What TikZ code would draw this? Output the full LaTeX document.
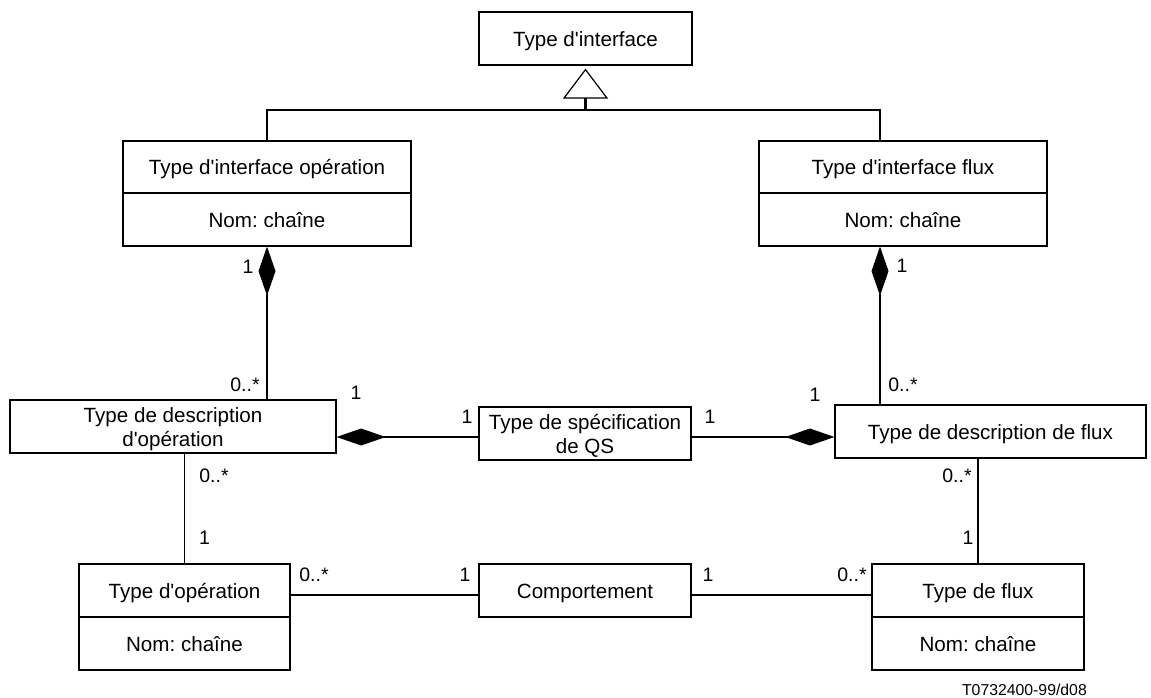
\documentclass[tikz,border=0pt]{standalone}
\usepackage{fontspec}
\setmainfont{Liberation Sans}[Ligatures=TeXOff]
\usetikzlibrary{arrows.meta,calc}
% box text: one or more centred lines, lowered a little inside the box
\newcommand\boxtext[1]{\raisebox{-3pt}[\height][\depth]{\begin{tabular}{@{}c@{}}#1\end{tabular}}}
\begin{document}
\frenchspacing
\begin{tikzpicture}[x=1pt,y=-1pt,
  cls/.style={draw, line width=1.2pt, inner sep=0pt,
    font=\fontsize{20.6}{24}\selectfont},
  mult/.style={inner sep=0pt, font=\fontsize{19.5}{22}\selectfont},
  lnthin/.style={line width=1.2pt},
  lnthick/.style={line width=2.2pt},
  compo/.style={{Diamond[length=49pt,width=17pt,line width=1pt]}-}
]
\useasboundingbox (0,0) rectangle (1151,697);

% classes
\node[cls, minimum width=213pt, minimum height=53pt] (ti) at (585.5,38.5) {\boxtext{Type d'interface}};

\node[cls, minimum width=288pt, minimum height=52pt] (tio)  at (267,167)   {\boxtext{Type d'interface opération}};
\node[cls, minimum width=288pt, minimum height=53pt] (tiob) at (267,219.5) {\boxtext{Nom: chaîne}};

\node[cls, minimum width=288pt, minimum height=52pt] (tif)  at (903,167)   {\boxtext{Type d'interface flux}};
\node[cls, minimum width=288pt, minimum height=53pt] (tifb) at (903,219.5) {\boxtext{Nom: chaîne}};

\node[cls, minimum width=326pt, minimum height=53pt] (descop) at (173,426.5) {\boxtext{Type de description\\d'opération}};
\node[cls, minimum width=212pt, minimum height=53pt] (qs) at (585,433.5) {\boxtext{Type de spécification\\de QS}};
\node[cls, minimum width=311pt, minimum height=53pt] (descflux) at (990.5,431.5) {\boxtext{Type de description de flux}};

\node[cls, minimum width=211pt, minimum height=53pt] (typeop)  at (184.5,590.5) {\boxtext{Type d'opération}};
\node[cls, minimum width=211pt, minimum height=53pt] (typeopb) at (184.5,643.5) {\boxtext{Nom: chaîne}};

\node[cls, minimum width=212pt, minimum height=53pt] (comp) at (585,590.5) {\boxtext{Comportement}};

\node[cls, minimum width=212pt, minimum height=53pt] (typeflux)  at (978,590.5) {\boxtext{Type de flux}};
\node[cls, minimum width=212pt, minimum height=53pt] (typefluxb) at (978,643.5) {\boxtext{Nom: chaîne}};

% generalisation
\coordinate (bar) at (585.5,110);
\coordinate (rv) at (880,0);
\draw[lnthin] (tio.north) |- (bar) -| (rv |- tif.north);
\draw[lnthick, -{Triangle[open,length=30pt,width=45pt,line width=1.2pt]}] (bar) -- ([yshift=-3pt]ti.south);

% compositions
\draw[lnthin, compo] (tiob.south) -- (tiob.south |- descop.north);
\draw[lnthin, compo] (rv |- tifb.south) -- (rv |- descflux.north);
\coordinate (hq) at (0,437);
\draw[lnthick, compo] (descop.east |- hq) -- (qs.west |- hq);
\draw[lnthick, compo] (descflux.west |- hq) -- (qs.east |- hq);

% associations
\draw[lnthin] (descop.south -| typeop.north) -- (typeop.north);
\draw[lnthin] (descflux.south -| typeflux.north) -- (typeflux.north);
\coordinate (hc) at (0,595);
\draw[lnthick] (typeop.east |- hc) -- (comp.west |- hc);
\draw[lnthick] (comp.east |- hc) -- (typeflux.west |- hc);

% multiplicities
\node[mult] (m1)  at (248,267) {1};
\node[mult] (m2)  at (245,385) {0..*};
\node[mult] (m3)  at (902,266) {1};
\node[mult] (m4)  at (903,385) {0..*};
\node[mult] (m5)  at (356,393) {1};
\node[mult] (m6)  at (467,417) {1};
\node[mult] (m7)  at (710,417) {1};
\node[mult] (m8)  at (815,395) {1};
\node[mult] (m9)  at (214,476) {0..*};
\node[mult] (m10) at (204.5,538) {1};
\node[mult] (m11) at (957,476) {0..*};
\node[mult] (m12) at (968,538) {1};
\node[mult] (m13) at (314,575) {0..*};
\node[mult] (m14) at (465,575) {1};
\node[mult] (m15) at (708,575) {1};
\node[mult] (m16) at (852,575) {0..*};

% reference
\node[inner sep=0pt, anchor=east, font=\fontsize{15.8}{18}\selectfont] (ref) at (1087,690) {T0732400-99/d08};
\end{tikzpicture}
\end{document}
